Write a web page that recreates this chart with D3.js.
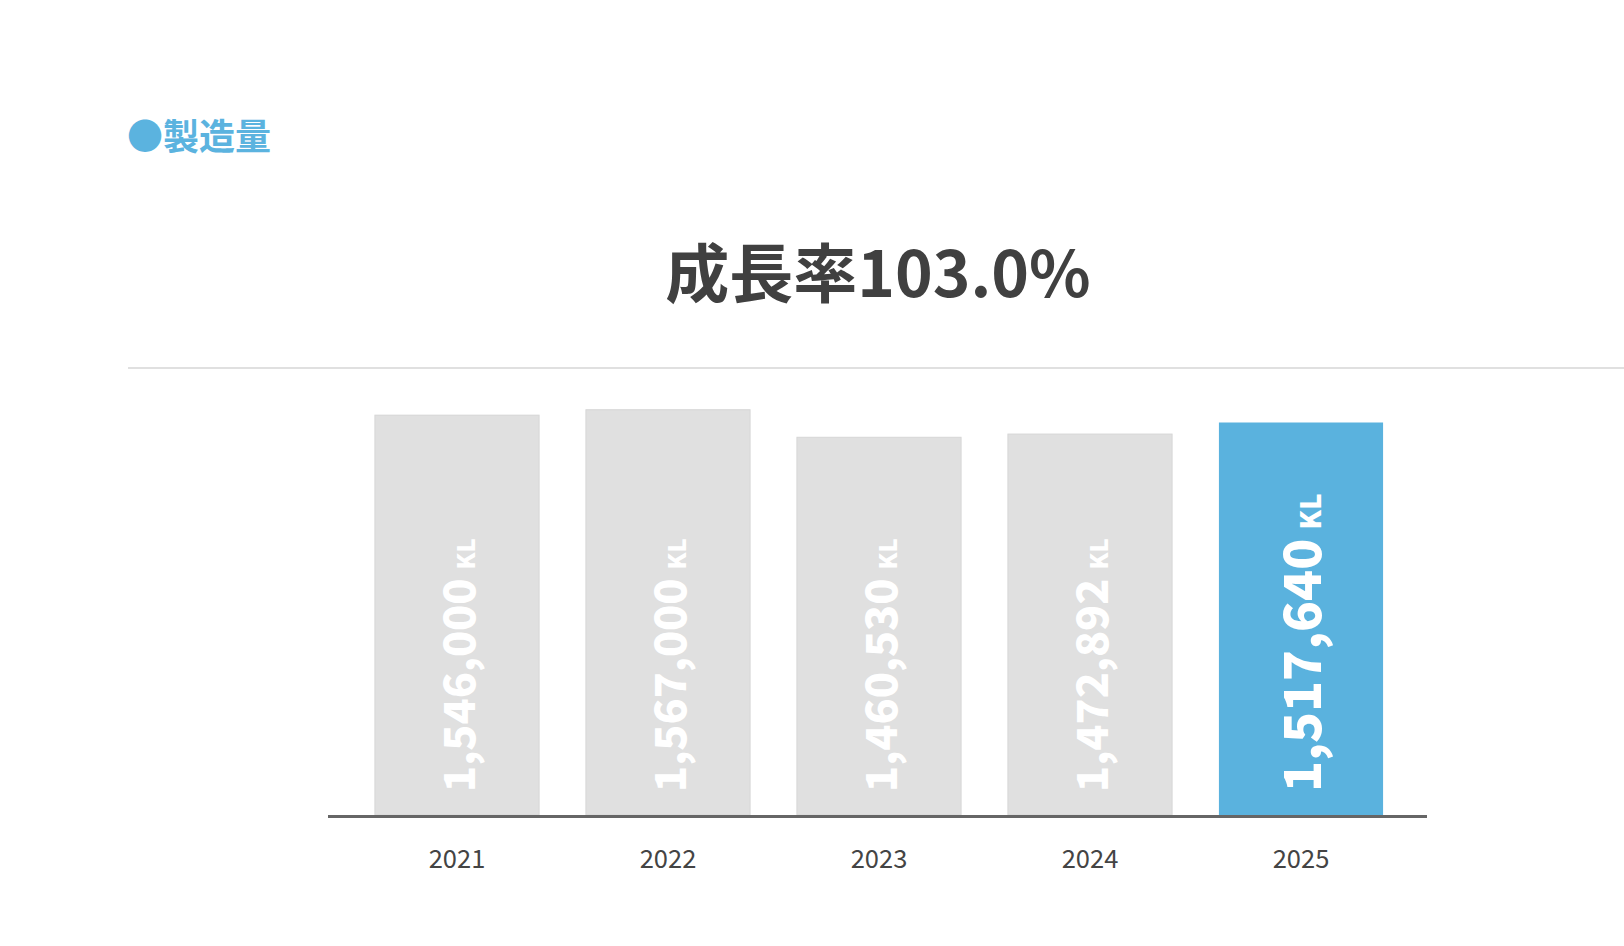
<!DOCTYPE html>
<html><head><meta charset="utf-8">
<script src="https://cdn.jsdelivr.net/npm/d3@7"></script>
<style>
html,body{margin:0;padding:0;background:#fff;}
svg{display:block;font-family:"Noto Sans CJK JP","Noto Sans",sans-serif;}
</style></head>
<body>
<svg id="chart" width="1624" height="946"></svg>
<script>
const years = ["2021","2022","2023","2024","2025"];
const values = [1546000, 1567000, 1460530, 1472892, 1517640];
const unit = "KL";
const sectionTitle = "●製造量";
const headline = "成長率103.0%";
const highlightYear = "2025";

const svg = d3.select("#chart");
const W = 1624;
const baseY = 815;

const x = d3.scaleBand().domain(years).range([351.5, 1406.5]).paddingInner(0.222).paddingOuter(0.111);
const y = d3.scaleLinear().domain([0, 1600000]).range([baseY, baseY - 413.8]);

// section title
svg.append("text").attr("x", 127).attr("y", 150)
  .attr("fill", "#5bb3df").attr("font-size", 36).attr("font-weight", 700)
  .text(sectionTitle);

// headline
svg.append("text").attr("x", 878).attr("y", 297).attr("text-anchor", "middle")
  .attr("fill", "#404040").attr("font-size", 64).attr("font-weight", 700)
  .text(headline);

// separator
svg.append("line").attr("x1", 128).attr("x2", W).attr("y1", 368).attr("y2", 368)
  .attr("stroke", "#e0e0e0").attr("stroke-width", 2);

// bars
const g = svg.append("g");
g.selectAll("rect.bar").data(years).join("rect")
  .attr("class", "bar")
  .attr("x", d => x(d))
  .attr("width", x.bandwidth())
  .attr("y", (d, i) => y(values[i]))
  .attr("height", (d, i) => baseY - y(values[i]))
  .attr("fill", d => d === highlightYear ? "#5ab2de" : "#e0e0e0")
  .attr("stroke", d => d === highlightYear ? "none" : "#d6d6d6")
  .attr("stroke-width", 1);

// value labels (rotated)
const fmt = d3.format(",");
years.forEach((yr, i) => {
  const hi = yr === highlightYear;
  const cx = x(yr) + x.bandwidth() / 2;
  const t = g.append("text")
    .attr("transform", `translate(${cx + (hi ? 20 : 18)},${792}) rotate(-90)`)
    .attr("fill", "#ffffff").attr("font-weight", 900);
  t.append("tspan").attr("font-size", hi ? 51 : 43).text(fmt(values[i]));
  t.append("tspan").attr("font-size", hi ? 28 : 24).attr("dx", 9).text(unit);
});

// x axis
const axis = svg.append("g").attr("transform", `translate(0,${baseY + 1.5})`)
  .call(d3.axisBottom(x).tickSize(0).tickPadding(33));
axis.select(".domain").remove();
axis.selectAll("text").attr("font-size", 25.5).attr("fill", "#444")
  .attr("font-family", "'Noto Sans CJK JP','Noto Sans',sans-serif");
svg.append("line").attr("x1", x.range()[0] - 23.5).attr("x2", x.range()[1] + 20.5)
  .attr("y1", baseY + 1.5).attr("y2", baseY + 1.5)
  .attr("stroke", "#666").attr("stroke-width", 3);
</script>
</body></html>
